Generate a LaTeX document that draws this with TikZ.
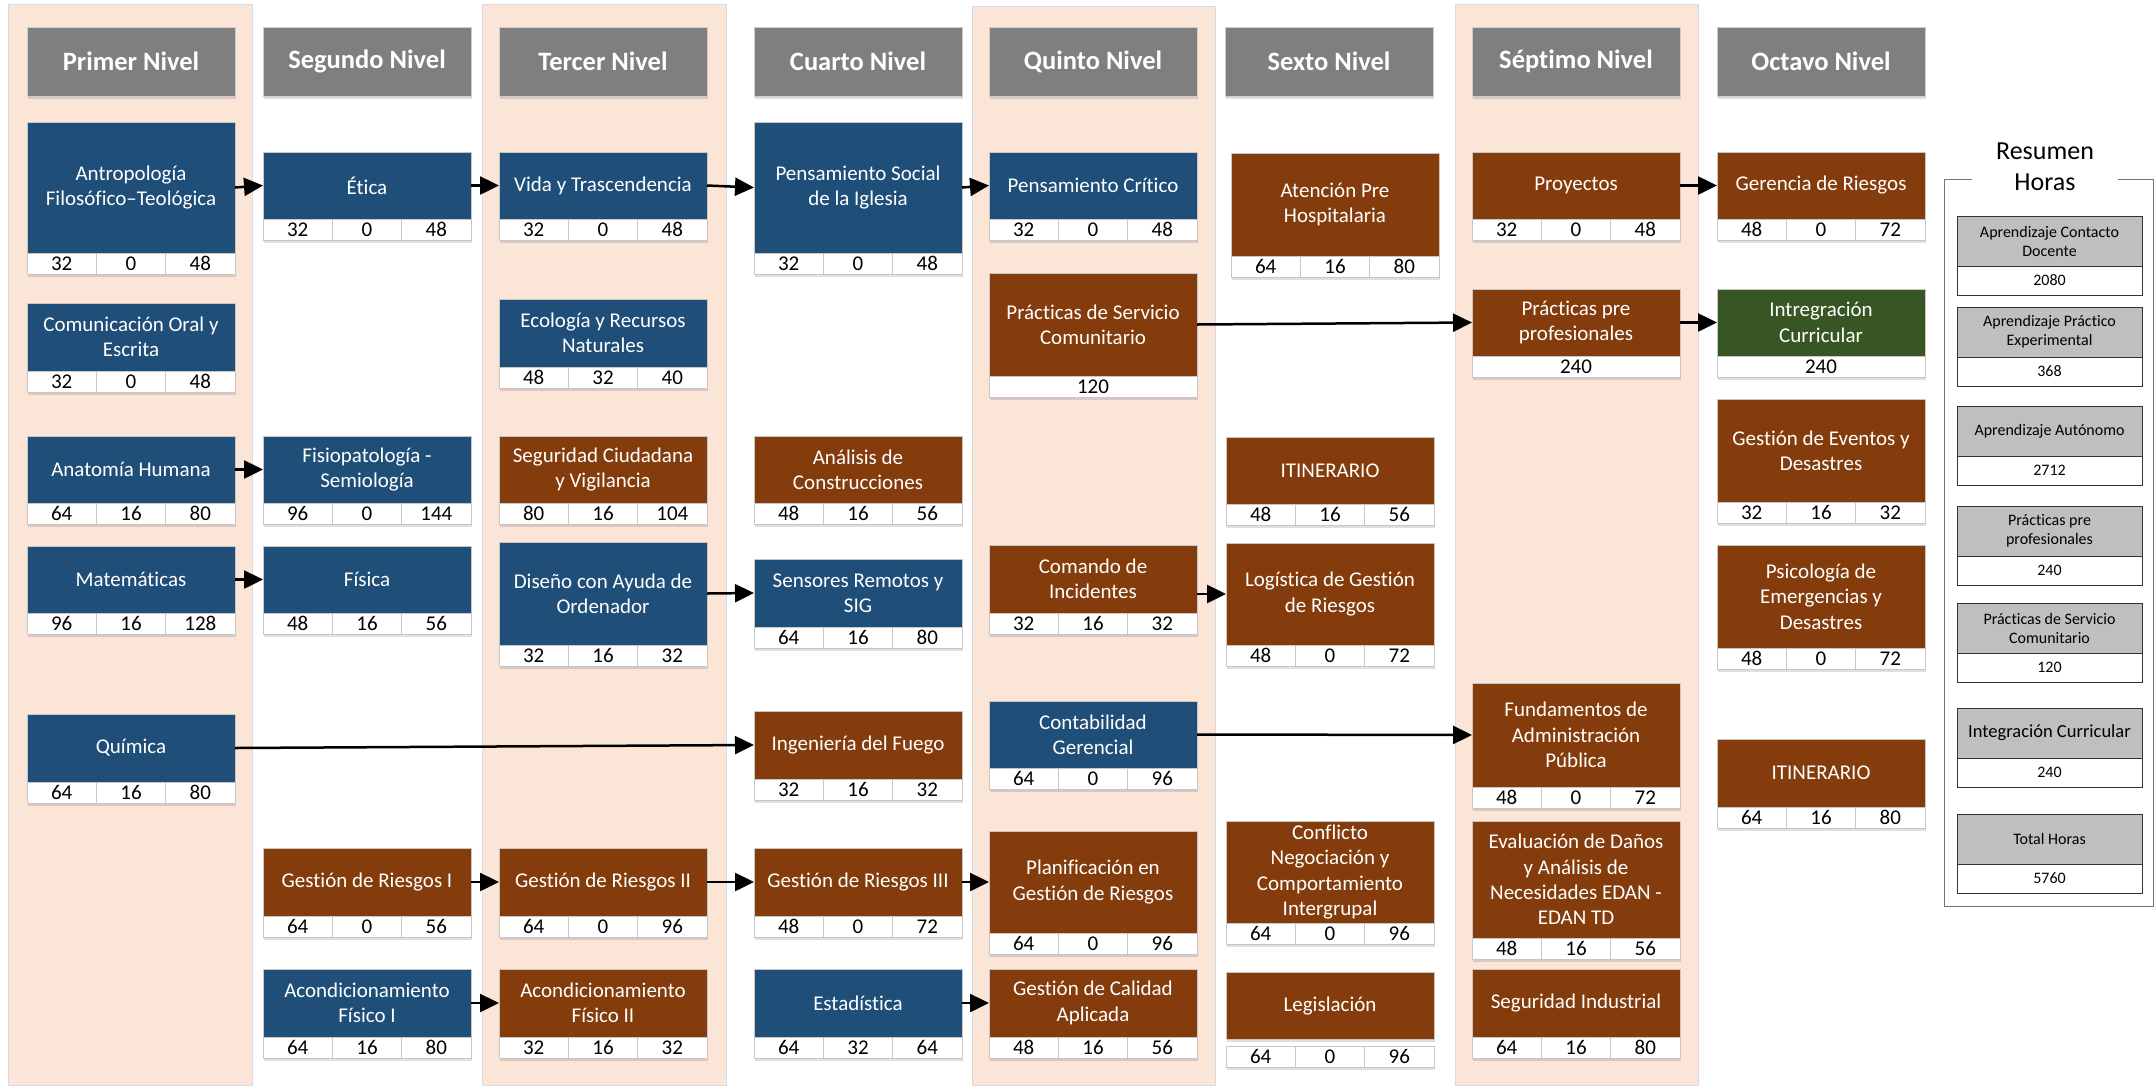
\documentclass[tikz,border=0pt]{standalone}
\usepackage{fontspec}
\setmainfont{Carlito}[Ligatures=NoCommon]
\usetikzlibrary{arrows.meta,shadows}
\definecolor{cblue}{RGB}{31,78,121}
\definecolor{cbrown}{RGB}{132,60,12}
\definecolor{cgreen}{RGB}{55,86,35}
\definecolor{hgray}{RGB}{127,127,127}
\definecolor{peach}{RGB}{251,229,214}
\definecolor{peachline}{RGB}{214,220,229}
\definecolor{rgray}{RGB}{191,191,191}
\newcommand{\crsfont}{\fontsize{21}{25.4}\selectfont}
\newcommand{\numfont}{\fontsize{21}{24}\selectfont}
\newcommand{\hdrfont}{\fontsize{26.5}{30}\selectfont\bfseries}
\newcommand{\resfont}{\fontsize{16}{19}\selectfont}
\tikzset{
  sh/.style={drop shadow={shadow xshift=1pt, shadow yshift=-3pt, opacity=0.13, fill=black!70!blue}},
  crs/.style={sh, draw=black!22, line width=0.6pt, text=white, align=center, font=\crsfont,
    minimum width=208pt, inner sep=2pt, outer sep=0pt, anchor=north west},
  cb/.style={crs, fill=cblue},
  cr/.style={crs, fill=cbrown},
  cg/.style={crs, fill=cgreen},
  numcell/.style={sh, draw=black!22, line width=0.6pt, fill=white, minimum width=69.333pt,
    minimum height=21pt, inner sep=0pt, outer sep=0pt, anchor=north west, font=\numfont},
  hdr/.style={sh, draw=black!20, line width=0.6pt, fill=hgray, text=white, font=\hdrfont,
    minimum width=208pt, minimum height=69pt, inner sep=0pt, outer sep=0pt, anchor=north west},
  arr/.style={-{Triangle[length=19pt,width=18pt]}, line width=2.5pt, black},
  rsg/.style={sh, draw=black!80, line width=0.8pt, fill=rgray, align=center, font=\resfont,
    minimum width=185pt, minimum height=50pt, inner sep=0pt, outer sep=0pt, anchor=north west},
  rsw/.style={draw=black!80, line width=0.8pt, fill=white, font=\resfont,
    minimum width=185pt, minimum height=29pt, inner sep=0pt, outer sep=0pt, anchor=north west},
  colbg/.style={fill=peach, draw=peachline, line width=0.8pt}
}
\newcommand{\numrow}[4]{%
  \node[numcell] (#1-n1) at (#1.south west) {#2};
  \node[numcell] (#1-n2) at (#1-n1.north east) {#3};
  \node[numcell] (#1-n3) at (#1-n2.north east) {#4};}
\newcommand{\numone}[2]{%
  \node[numcell, minimum width=208pt] (#1-n) at (#1.south west) {#2};}
\begin{document}
\begin{tikzpicture}[x=1pt,y=-1pt]
\useasboundingbox (0,0) rectangle (2156,1088);
% column backgrounds
\path[colbg] (8,4) rectangle (252,1085);
\path[colbg] (482,4) rectangle (726,1085);
\path[colbg] (972,6) rectangle (1215,1085);
\path[colbg] (1455,4) rectangle (1698,1085);
% headers
\node[hdr] (h1) at (27,27) {Primer Nivel};
\node[hdr] (h2) at (263,27) {Segundo Nivel};
\node[hdr] (h3) at (499,27) {Tercer Nivel};
\node[hdr] (h4) at (754,27) {Cuarto Nivel};
\node[hdr] (h5) at (989,27) {Quinto Nivel};
\node[hdr] (h6) at (1225,27) {Sexto Nivel};
\node[hdr] (h7) at (1472,27) {Séptimo Nivel};
\node[hdr] (h8) at (1717,27) {Octavo Nivel};
% column 1
\node[cb, minimum height=131pt] (antro) at (27,122) {Antropología\\Filosófico–Teológica}; \numrow{antro}{32}{0}{48}
\node[cb, minimum height=68pt] (comun) at (27,303) {Comunicación Oral y\\Escrita}; \numrow{comun}{32}{0}{48}
\node[cb, minimum height=67pt] (anat) at (27,436) {Anatomía Humana}; \numrow{anat}{64}{16}{80}
\node[cb, minimum height=67pt] (mate) at (27,546) {Matemáticas}; \numrow{mate}{96}{16}{128}
\node[cb, minimum height=68pt] (quim) at (27,714) {Química}; \numrow{quim}{64}{16}{80}
% column 2
\node[cb, minimum height=67pt] (etica) at (263,152) {Ética}; \numrow{etica}{32}{0}{48}
\node[cb, minimum height=67pt] (fisio) at (263,436) {Fisiopatología -\\Semiología}; \numrow{fisio}{96}{0}{144}
\node[cb, minimum height=67pt] (fisica) at (263,546) {Física}; \numrow{fisica}{48}{16}{56}
\node[cr, minimum height=68pt] (gr1) at (263,848) {Gestión de Riesgos I}; \numrow{gr1}{64}{0}{56}
\node[cb, minimum height=68pt] (acf1) at (263,969) {Acondicionamiento\\Físico I}; \numrow{acf1}{64}{16}{80}
% column 3
\node[cb, minimum height=67pt] (vida) at (499,152) {Vida y Trascendencia}; \numrow{vida}{32}{0}{48}
\node[cb, minimum height=68pt] (ecol) at (499,299) {Ecología y Recursos\\Naturales}; \numrow{ecol}{48}{32}{40}
\node[cr, minimum height=67pt] (segc) at (499,436) {Seguridad Ciudadana\\y Vigilancia}; \numrow{segc}{80}{16}{104}
\node[cb, minimum height=103pt] (dise) at (499,542) {Diseño con Ayuda de\\Ordenador}; \numrow{dise}{32}{16}{32}
\node[cr, minimum height=68pt] (gr2) at (499,848) {Gestión de Riesgos II}; \numrow{gr2}{64}{0}{96}
\node[cr, minimum height=68pt] (acf2) at (499,969) {Acondicionamiento\\Físico II}; \numrow{acf2}{32}{16}{32}
% column 4
\node[cb, minimum height=131pt] (pss) at (754,122) {Pensamiento Social\\de la Iglesia}; \numrow{pss}{32}{0}{48}
\node[cr, minimum height=67pt] (anal) at (754,436) {Análisis de\\Construcciones}; \numrow{anal}{48}{16}{56}
\node[cb, minimum height=68pt] (sens) at (754,559) {Sensores Remotos y\\SIG}; \numrow{sens}{64}{16}{80}
\node[cr, minimum height=68pt] (ingf) at (754,711) {Ingeniería del Fuego}; \numrow{ingf}{32}{16}{32}
\node[cr, minimum height=68pt] (gr3) at (754,848) {Gestión de Riesgos III}; \numrow{gr3}{48}{0}{72}
\node[cb, minimum height=68pt] (esta) at (754,969) {Estadística}; \numrow{esta}{64}{32}{64}
% column 5
\node[cb, minimum height=67pt] (pcri) at (989,152) {Pensamiento Crítico}; \numrow{pcri}{32}{0}{48}
\node[cr, minimum height=103pt] (psc) at (989,273) {Prácticas de Servicio\\Comunitario}; \numone{psc}{120}
\node[cr, minimum height=68pt] (coma) at (989,545) {Comando de\\Incidentes}; \numrow{coma}{32}{16}{32}
\node[cb, minimum height=67pt] (cont) at (989,701) {Contabilidad\\Gerencial}; \numrow{cont}{64}{0}{96}
\node[cr, minimum height=102pt] (plan) at (989,831) {Planificación en\\Gestión de Riesgos}; \numrow{plan}{64}{0}{96}
\node[cr, minimum height=68pt] (gcal) at (989,969) {Gestión de Calidad\\Aplicada}; \numrow{gcal}{48}{16}{56}
% column 6
\node[cr, minimum height=103pt] (aten) at (1231,153) {Atención Pre\\Hospitalaria}; \numrow{aten}{64}{16}{80}
\node[cr, minimum height=67pt] (itin6) at (1226,437) {ITINERARIO}; \numrow{itin6}{48}{16}{56}
\node[cr, minimum height=102pt] (logi) at (1226,543) {Logística de Gestión\\de Riesgos}; \numrow{logi}{48}{0}{72}
\node[cr, minimum height=102pt] (conf) at (1226,821) {Conflicto\\Negociación y\\Comportamiento\\Intergrupal}; \numrow{conf}{64}{0}{96}
\node[cr, minimum height=67pt] (legi) at (1226,972) {Legislación};
\coordinate (legi-g) at ([yshift=-7pt]legi.south west);
\node[numcell] (legi-n1) at (legi-g) {64};
\node[numcell] (legi-n2) at (legi-n1.north east) {0};
\node[numcell] (legi-n3) at (legi-n2.north east) {96};
% column 7
\node[cr, minimum height=67pt] (proy) at (1472,152) {Proyectos}; \numrow{proy}{32}{0}{48}
\node[cr, minimum height=67pt] (ppp) at (1472,289) {Prácticas pre\\profesionales}; \numone{ppp}{240}
\node[cr, minimum height=104pt] (fund) at (1472,683) {Fundamentos de\\Administración\\Pública}; \numrow{fund}{48}{0}{72}
\node[cr, minimum height=117pt] (edan) at (1472,821) {Evaluación de Daños\\y Análisis de\\Necesidades EDAN -\\EDAN TD}; \numrow{edan}{48}{16}{56}
\node[cr, minimum height=68pt] (segi) at (1472,969) {Seguridad Industrial}; \numrow{segi}{64}{16}{80}
% column 8
\node[cr, minimum height=67pt] (gere) at (1717,152) {Gerencia de Riesgos}; \numrow{gere}{48}{0}{72}
\node[cg, minimum height=67pt] (intc) at (1717,289) {Intregración\\Curricular}; \numone{intc}{240}
\node[cr, minimum height=103pt] (gev) at (1717,399) {Gestión de Eventos y\\Desastres}; \numrow{gev}{32}{16}{32}
\node[cr, minimum height=103pt] (psic) at (1717,545) {Psicología de\\Emergencias y\\Desastres}; \numrow{psic}{48}{0}{72}
\node[cr, minimum height=68pt] (itin8) at (1717,739) {ITINERARIO}; \numrow{itin8}{64}{16}{80}
% arrows
\draw[arr] (antro.east) -- (etica.west);
\draw[arr] (etica.east) -- (vida.west);
\draw[arr] (vida.east) -- (pss.west);
\draw[arr] (pss.east) -- (pcri.west);
\draw[arr] (proy.east) -- (gere.west);
\draw[arr] (psc.east) -- (ppp.west);
\draw[arr] (ppp.east) -- (intc.west);
\draw[arr] (anat.east) -- (fisio.west);
\draw[arr] (mate.east) -- (fisica.west);
\draw[arr] (dise.east) -- (sens.west);
\draw[arr] (quim.east) -- (ingf.west);
\draw[arr] (coma.east |- logi.west) -- (logi.west);
\draw[arr] (cont.east) -- (fund.west);
\draw[arr] (gr1.east) -- (gr2.west);
\draw[arr] (gr2.east) -- (gr3.west);
\draw[arr] (gr3.east) -- (plan.west);
\draw[arr] (acf1.east) -- (acf2.west);
\draw[arr] (esta.east) -- (gcal.west);
% resumen
\draw[black!55, line width=1pt] (1944,179) rectangle (2153,906);
\node[fill=white, minimum width=146pt, inner sep=1pt, align=center, font=\fontsize{26}{31}\selectfont] (rtit) at (2045,167) {Resumen\\Horas};
\node[rsg] (r1) at (1957,216) {Aprendizaje Contacto\\Docente}; \node[rsw] (r1v) at (r1.south west) {2080};
\node[rsg] (r2) at (1957,307) {Aprendizaje Práctico\\Experimental}; \node[rsw] (r2v) at (r2.south west) {368};
\node[rsg] (r3) at (1957,406) {Aprendizaje Autónomo}; \node[rsw] (r3v) at (r3.south west) {2712};
\node[rsg] (r4) at (1957,506) {Prácticas pre\\profesionales}; \node[rsw] (r4v) at (r4.south west) {240};
\node[rsg] (r5) at (1957,603) {Prácticas de Servicio\\Comunitario}; \node[rsw] (r5v) at (r5.south west) {120};
\node[rsg, font=\fontsize{18.5}{22}\selectfont] (r6) at (1957,708) {Integración Curricular}; \node[rsw] (r6v) at (r6.south west) {240};
\node[rsg] (r7) at (1957,814) {Total Horas}; \node[rsw] (r7v) at (r7.south west) {5760};
\end{tikzpicture}
\end{document}
